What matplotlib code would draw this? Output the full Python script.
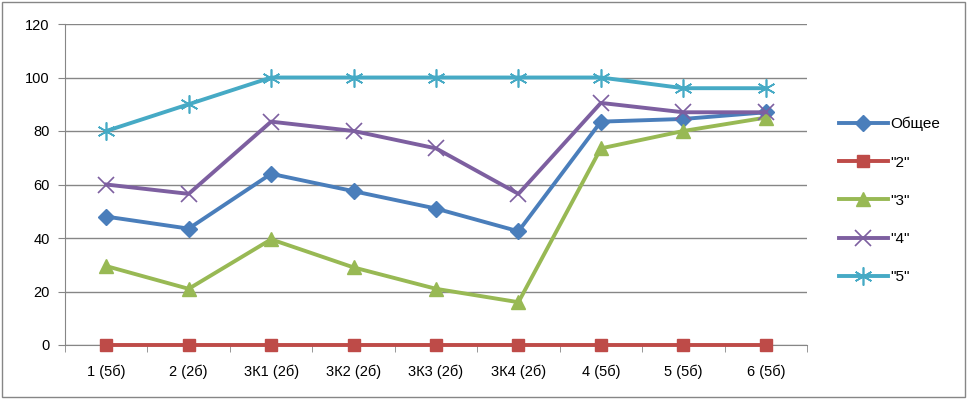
import matplotlib
matplotlib.use('Agg')
import matplotlib.pyplot as plt
import numpy as np
from matplotlib.patches import Rectangle

categories = ['1 (5б)', '2 (2б)', '3К1 (2б)', '3К2 (2б)', '3К3 (2б)', '3К4 (2б)', '4 (5б)', '5 (5б)', '6 (5б)']
obshchee = [48, 43.5, 64, 57.5, 51, 42.5, 83.5, 84.5, 87]
s2 = [0, 0, 0, 0, 0, 0, 0, 0, 0]
s3 = [29.5, 21, 39.5, 29, 21, 16, 73.5, 80, 85]
s4 = [60, 56.5, 83.5, 80, 73.5, 56.5, 90.5, 87, 87]
s5 = [80, 90, 100, 100, 100, 100, 100, 96, 96]

plt.rcParams['font.family'] = ['Liberation Sans', 'DejaVu Sans']

fig = plt.figure(figsize=(9.67, 3.99), dpi=100)
ax = fig.add_axes([65/967, 1-345/399, 742/967, 321/399])

x = np.arange(len(categories))
series = [
    ('Общее', obshchee, '#4a7ebb', 'D', 8),
    ('"2"', s2, '#be4b48', 's', 8.5),
    ('"3"', s3, '#98b954', '^', 10),
    ('"4"', s4, '#7d5fa0', 'x', 11),
    ('"5"', s5, '#46aac5', (6, 2, 0), 13),
]
for name, vals, col, mk, ms in series:
    if mk == 'x' or isinstance(mk, tuple):
        ax.plot(x, vals, color=col, lw=2.8, marker=mk, ms=ms, mew=1.2, label=name,
                zorder=3, clip_on=False)
    else:
        ax.plot(x, vals, color=col, lw=2.8, marker=mk, ms=ms, label=name,
                zorder=3, clip_on=False)

ax.set_xlim(-0.5, len(categories) - 0.5)
ax.set_ylim(0, 120)
ax.set_yticks(np.arange(0, 121, 20))
ax.yaxis.grid(True, color='#868686', lw=1)
ax.set_axisbelow(True)
ax.set_xticks(x)
ax.set_xticklabels(categories, fontsize=10.5)
ax.set_xticks(np.arange(-0.5, len(categories), 1), minor=True)
ax.tick_params(axis='x', which='major', length=0, pad=14)
ax.tick_params(axis='x', which='minor', length=5, color='#868686')
ax.tick_params(axis='y', length=5, color='#868686', labelsize=10.5, pad=6)
for s in ['top', 'right']:
    ax.spines[s].set_visible(False)
for s in ['left', 'bottom']:
    ax.spines[s].set_color('#868686')

ax.legend(loc='center left', bbox_to_anchor=(825/742 - 65/742, 0.45), frameon=False,
          fontsize=11, handlelength=3.2, labelspacing=1.58, handletextpad=0.2)

fig.patches.append(Rectangle((2/967, 2/399), 963/967, 395/399, transform=fig.transFigure,
                             fill=False, edgecolor='#868686', lw=1))

fig.savefig('out.png', dpi=100)
